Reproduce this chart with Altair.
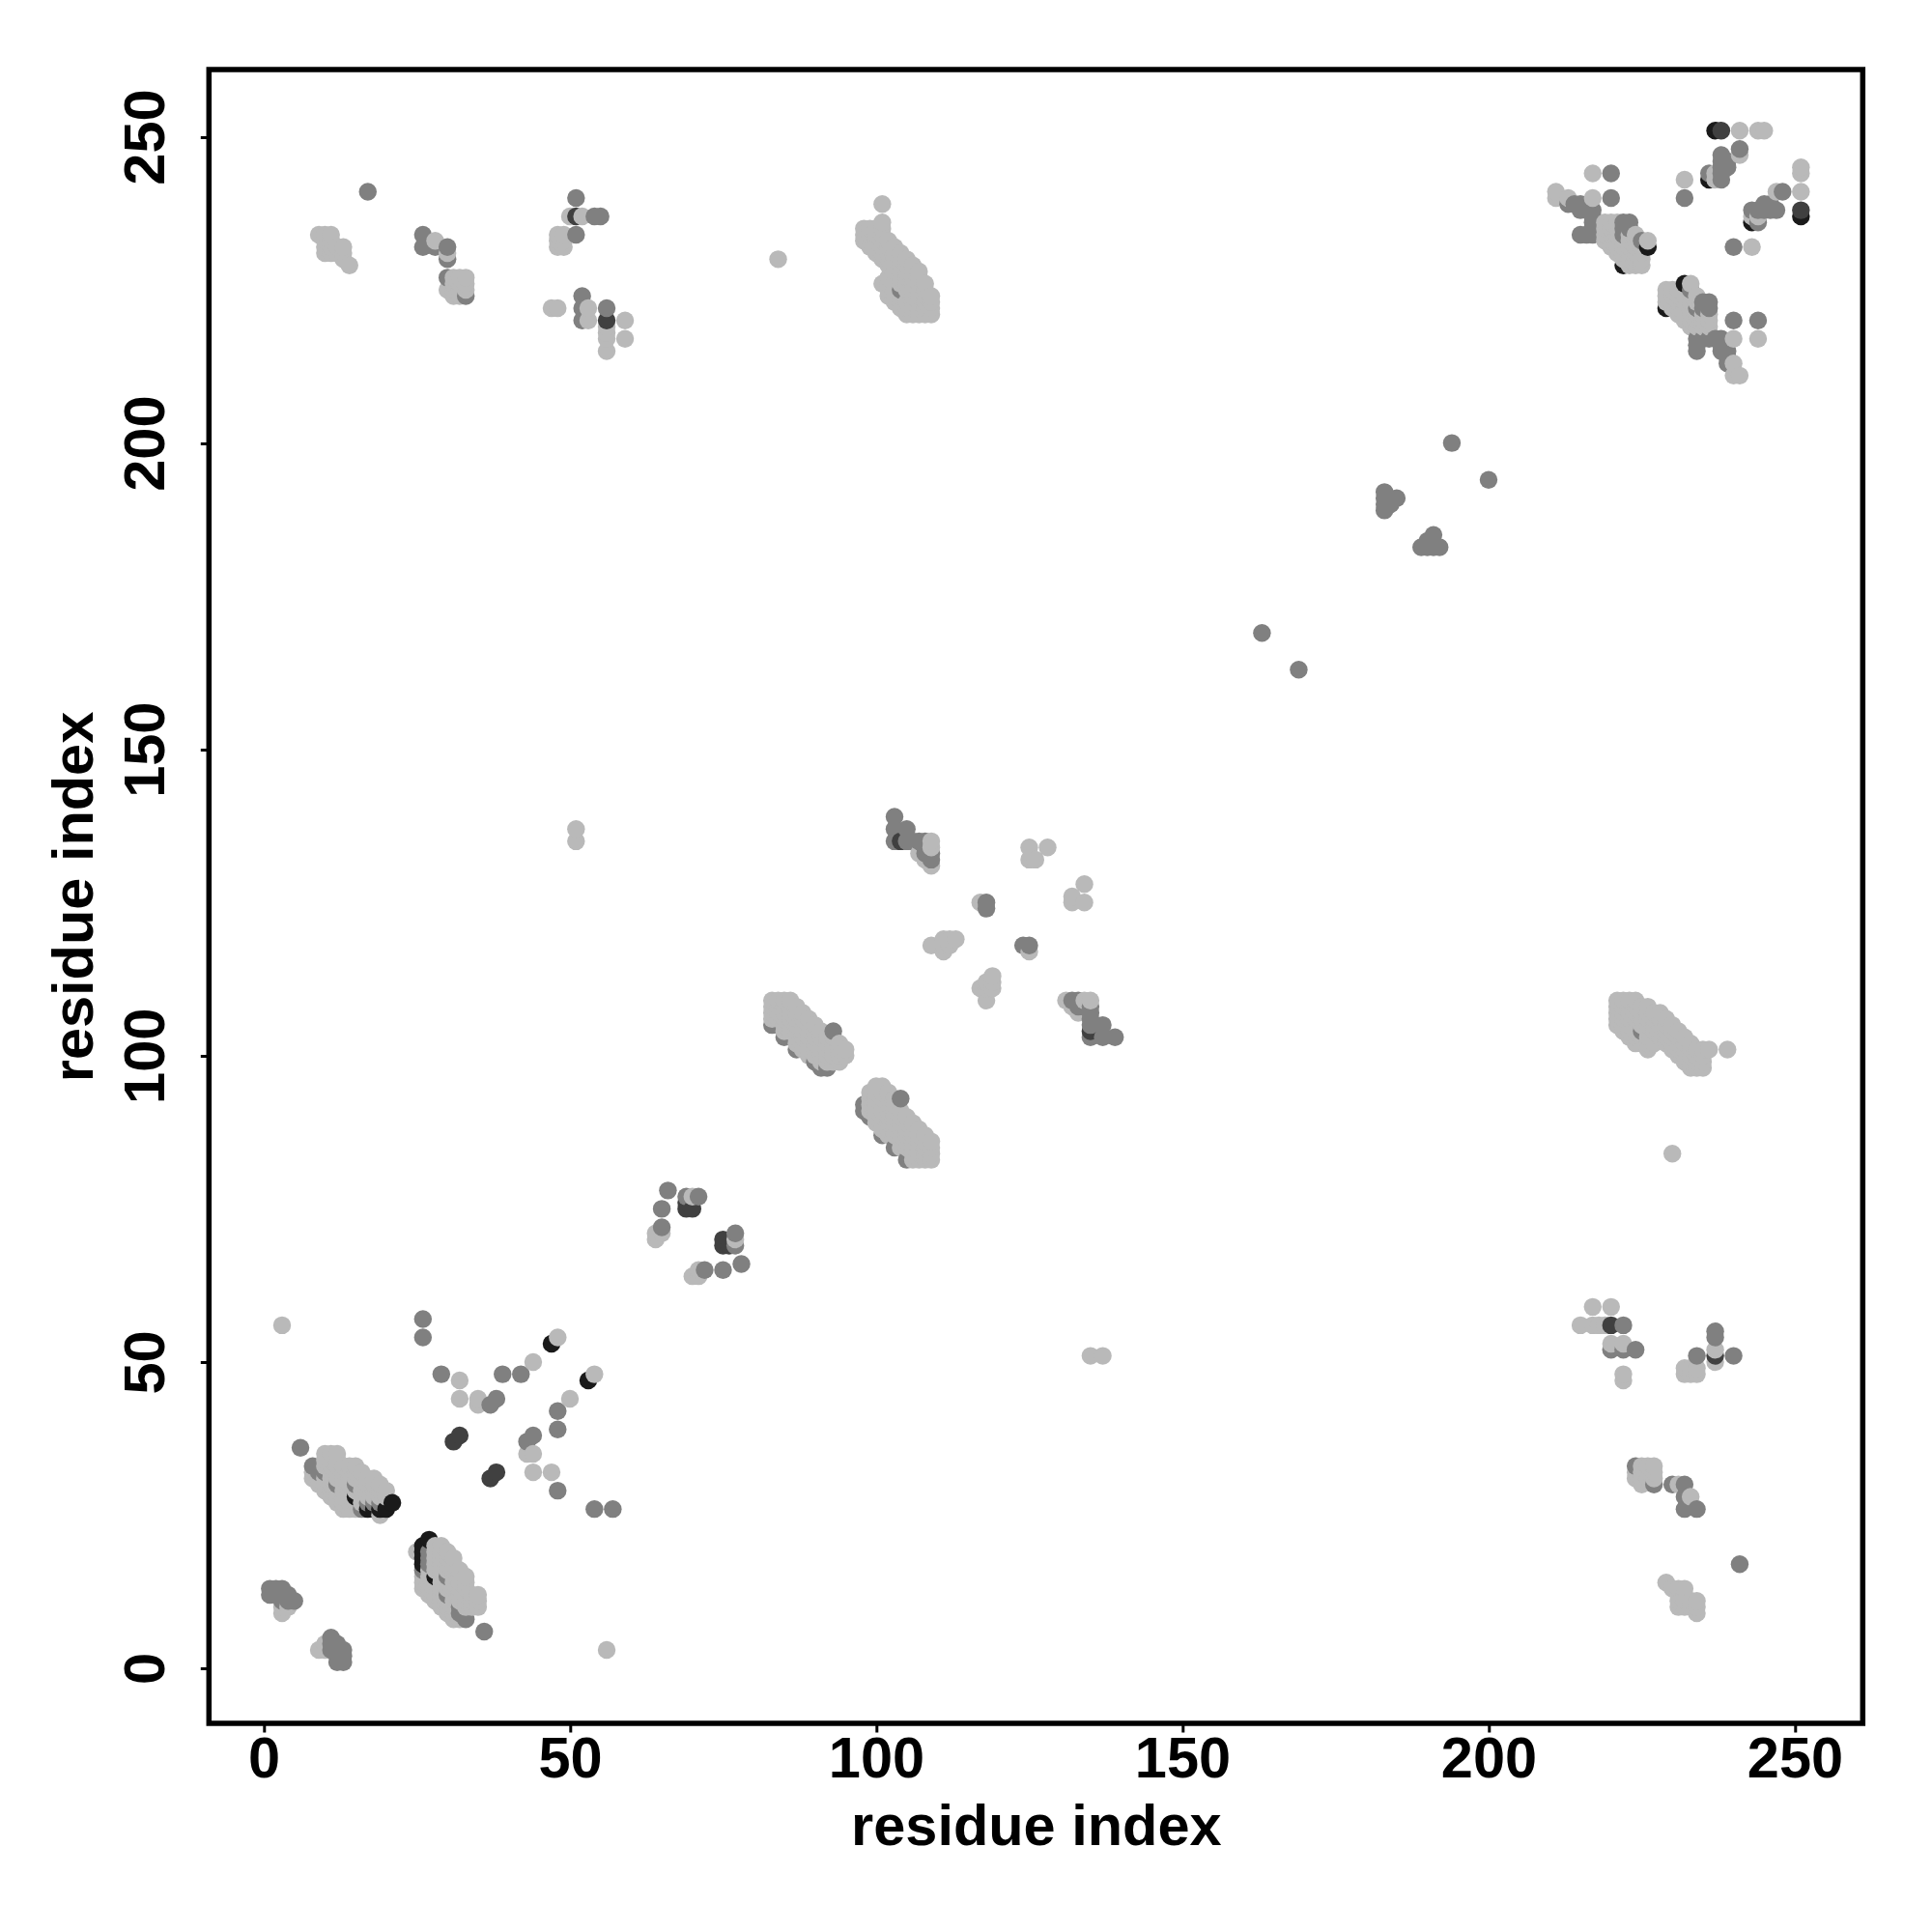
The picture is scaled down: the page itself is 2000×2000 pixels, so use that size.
import altair as alt
import pandas as pd

# contacts as (residue i, [partner residues j]), i < j, grouped by grey level
BLACK = [(15,[28]),(17,[26]),(18,[26]),(19,[26]),(20,[26]),(21,[27]),(47,[53]),
         (222,[229]),(226,[232]),(236,[243]),(237,[251])]
DARK = [(31,[37]),(32,[38]),(51,[237]),(56,[220]),(69,[75,76]),(70,[75]),(104,[135]),(238,[251])]
MID = [(1,[12,13]),(2,[12,13]),(3,[11,12,13]),(4,[11,12]),(5,[11]),
       (6,[36]),(8,[33]),(9,[32]),(10,[32]),(12,[30]),(15,[30]),(16,[26]),(17,[27]),(18,[27]),(19,[27]),
       (17,[241]),(26,[54,57,232,234]),(28,[232]),(29,[48]),(30,[227,230,232]),(33,[224]),
       (37,[43]),(38,[44]),(39,[48]),(42,[48]),(43,[37]),(44,[38]),
       (51,[234,240]),(52,[220,222,224]),(54,[237]),(55,[237]),(56,[222]),
       (65,[72,75]),(66,[78]),(69,[77]),(71,[77]),
       (83,[105]),(85,[103]),(87,[101]),(90,[99]),(91,[98]),(92,[98]),(93,[104]),
       (103,[135,137,139]),(104,[225]),(105,[135,137]),(106,[135]),(107,[135]),(108,[133,134,135]),(109,[132,133]),
       (118,[124,125]),(163,[169]),(183,[189,190,191,192]),(184,[190]),(185,[191]),(194,[200]),
       (213,[239]),(214,[239]),(215,[234,238,239]),(216,[234,238]),(217,[234,235,236,237,238]),
       (220,[240,244]),(222,[234,235,236]),(223,[235,236]),(225,[233]),
       (232,[240]),(236,[244]),(238,[243,244,245,246,247]),(239,[245,246]),(241,[248])]
LIGHT = [(3,[9,10,56]),(4,[10]),
         (8,[31,32]),(9,[30,31,234]),(10,[29,30,31,33,34,35,231,232,233,234]),
         (11,[28,29,30,31,32,33,34,35,231,232,233,234]),(12,[27,28,29,31,32,33,34,35,231,232]),
         (13,[26,27,28,29,30,31,32,33,230,231,232]),(14,[26,27,28,29,30,31,32,33,229]),
         (15,[26,27,29,31,32,33]),(16,[27,28,29,30,31,32]),(17,[28,29,30,31]),(18,[28,29,30,31]),
         (19,[25,28,29,30]),(20,[28,29]),
         (28,[233]),(30,[225,231]),(31,[224,225,226,227]),(32,[44,47,224,225,226,227]),(33,[225,226,227]),
         (35,[43,44]),(44,[50]),(48,[54,232,233,234]),(49,[232,233,234]),(47,[222]),(48,[222]),
         (50,[237]),(51,[135,137]),(52,[237]),(53,[220,222]),(56,[215,217,218,219]),(59,[217,220]),
         (64,[70,71]),(65,[71]),(70,[77]),(84,[230]),
         (83,[106,107,108,109]),(84,[106,107,108,109]),(85,[104,105,106,107,108,109]),
         (86,[104,105,106,107,108,109]),(87,[102,103,104,105,106,107,108]),
         (88,[101,102,103,104,105,106,107]),(89,[100,101,102,103,104,105,106]),
         (90,[100,101,102,103,104,105]),(91,[99,100,101,102,103,104]),(92,[99,100,101,102,103]),
         (93,[99,100,101,102,103]),(94,[99,100,101,102]),(95,[100,101]),
         (98,[233,234,235]),(99,[232,233,234,235]),(100,[231,232,233,234,235]),
         (101,[226,230,231,232,233,234,235,236,239]),(102,[224,225,226,227,229,230,231,232,233]),
         (103,[223,224,225,226,228,229,230,231,232]),(104,[222,223,224,226,227,228,229,230,231]),
         (105,[221,222,223,225,226,227,228,229,230]),(106,[221,222,223,224,225,226,227,228,229]),
         (107,[133,221,222,223,224,225,226,227,228]),(108,[132,221,222,223,224,225,226]),
         (109,[118,131,134,135,221,222,223,224]),
         (111,[117,118,119]),(112,[118,119]),(113,[119]),(117,[125]),
         (125,[132,134]),(126,[132]),(128,[134]),
         (211,[240,241]),(213,[240]),(217,[240,244]),
         (219,[233,234,235,236]),(220,[232,233,234,235,236]),(221,[231,232,233,234,235,236]),
         (222,[230,231,232,233]),(223,[229,230,231,232,233,234]),(224,[229,230,231,232,233,234]),
         (225,[229,230,231,232]),(226,[233]),
         (232,[243]),(237,[243,244]),(241,[247,251]),(244,[251]),(245,[251])]

GROUPS = {"light": LIGHT, "mid": MID, "dark": DARK, "black": BLACK}
SHADE_NAMES = ["light", "mid", "dark", "black"]
SHADE_COLORS = ["#b9b9b9", "#808080", "#404040", "#1a1a1a"]
TICKS = [0, 50, 100, 150, 200, 250]

rows = {}
for name, group in GROUPS.items():
    for i, partners in group:
        for j in partners:
            rows[(i, j)] = name
            rows[(j, i)] = name
table = pd.DataFrame([{"x": a, "y": b, "shade": s} for (a, b), s in sorted(rows.items())])

FONT = "Liberation Sans"
x_axis = alt.Axis(values=TICKS, grid=False, domain=False, tickColor="black", tickWidth=3, tickSize=9,
                  labelFont=FONT, labelFontWeight="bold", labelFontSize=59.5, labelColor="black",
                  labelPadding=0, labelOverlap=False, labelFlush=False,
                  titleFont=FONT, titleFontWeight="bold", titleFontSize=59.5, titleColor="black",
                  titlePadding=11, title="residue index", format="d")
y_axis = alt.Axis(values=TICKS, grid=False, domain=False, tickColor="black", tickWidth=3, tickSize=9,
                  labelFont=FONT, labelFontWeight="bold", labelFontSize=59.5, labelColor="black",
                  labelAngle=270, labelAlign="center", labelBaseline="bottom",
                  labelPadding=26, labelOverlap=False, labelFlush=False,
                  titleFont=FONT, titleFontWeight="bold", titleFontSize=59.5, titleColor="black",
                  titlePadding=14, title="residue index", format="d")

chart = (
    alt.Chart(table)
    .mark_circle(size=340, opacity=1)
    .encode(
        x=alt.X("x:Q", scale=alt.Scale(domain=[-8.94, 261.09], nice=False, zero=False), axis=x_axis),
        y=alt.Y("y:Q", scale=alt.Scale(domain=[-8.98, 260.96], nice=False, zero=False), axis=y_axis),
        color=alt.Color("shade:N", scale=alt.Scale(domain=SHADE_NAMES, range=SHADE_COLORS), legend=None),
    )
    .properties(width=1712, height=1712, background="white",
                autosize=alt.AutoSizeParams(type="none"),
                padding={"left": 208.3, "top": 64, "right": 60, "bottom": 200})
    .configure_view(stroke="black", strokeWidth=5.5, fill="white")
)

chart.save("out.html", embed_options={"renderer": "svg", "actions": False})
